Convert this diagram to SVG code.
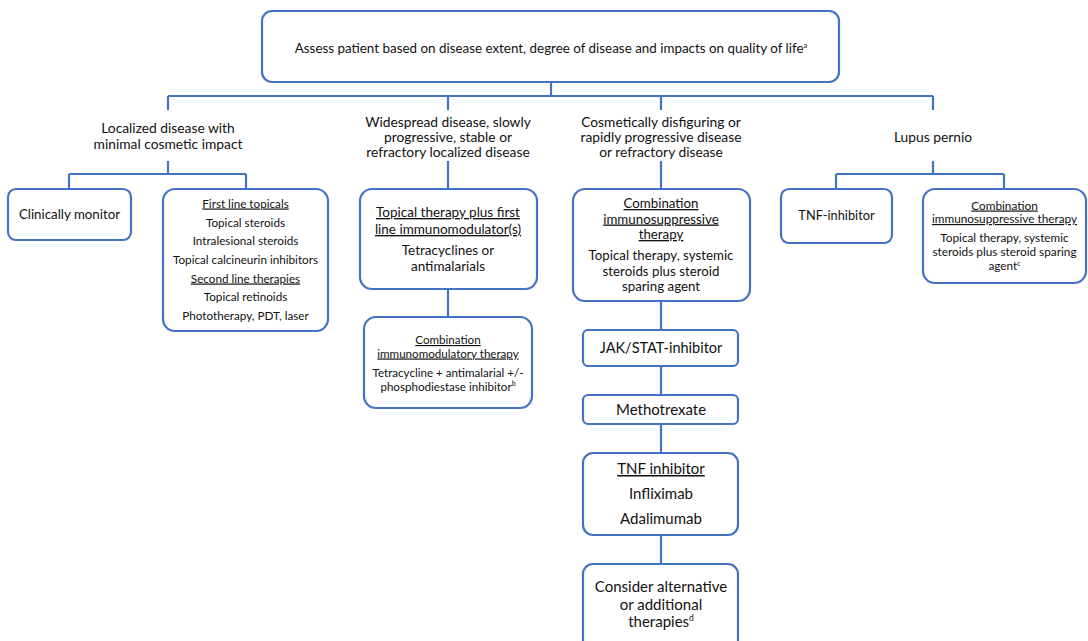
<svg xmlns="http://www.w3.org/2000/svg" width="1088" height="641" viewBox="0 0 1088 641">
<style>
.b{fill:#fff;stroke:#4472C4;stroke-width:2.2}
.c{fill:none;stroke:#4472C4;stroke-width:2.2}
text{font-family:Lato,"Liberation Sans",sans-serif;fill:#111;text-anchor:middle}
.u{text-decoration:underline}
.l{font-size:13.8px}
</style>
<rect width="1088" height="641" fill="#fff"/>
<g id="connectors">
<path class="c" d="M551 82V96M168 96H933M168 96V110M448 96V110M661 96V110M933 96V110"/>
<path class="c" d="M168 161V174M69 174H246M69 174V189M246 174V189"/>
<path class="c" d="M448 161V189M448 289V317"/>
<path class="c" d="M661 161V189M661 301V330M661 366V395M661 424V453M661 535V564"/>
<path class="c" d="M933 161V174M836 174H1004M836 174V189M1004 174V189"/>
</g>
<g id="n-top"><rect class="b" x="262" y="11" width="577" height="71" rx="10"/>
<text x="551" y="52.5" font-size="13.4">Assess patient based on disease extent, degree of disease and impacts on quality of life<tspan font-size="7.5" dy="-5">a</tspan></text></g>
<g id="l-local"><text class="l" x="168" y="132.5">Localized disease with</text><text class="l" x="168" y="148.5">minimal cosmetic impact</text></g>
<g id="l-wide"><text class="l" x="448" y="126.5">Widespread disease, slowly</text><text class="l" x="448" y="141.5">progressive, stable or</text><text class="l" x="448" y="156.5">refractory localized disease</text></g>
<g id="l-cosm"><text class="l" x="661" y="126.5">Cosmetically disfiguring or</text><text class="l" x="661" y="141.5">rapidly progressive disease</text><text class="l" x="661" y="156.5">or refractory disease</text></g>
<g id="l-lupus"><text class="l" x="933" y="141.5">Lupus pernio</text></g>
<g id="n-monitor"><rect class="b" x="8" y="189" width="123" height="51" rx="8"/><text x="69.5" y="219" font-size="13.3">Clinically monitor</text></g>
<g id="n-topicals"><rect class="b" x="163" y="189" width="165" height="142" rx="12"/>
<text font-size="11.7"><tspan class="u" x="245.5" y="207.5">First line topicals</tspan><tspan x="245.5" y="226.5">Topical steroids</tspan><tspan x="245.5" y="245">Intralesional steroids</tspan><tspan x="245.5" y="263.5">Topical calcineurin inhibitors</tspan><tspan class="u" x="245.5" y="282.5">Second line therapies</tspan><tspan x="245.5" y="301">Topical retinoids</tspan><tspan x="245.5" y="319.5">Phototherapy, PDT, laser</tspan></text></g>
<g id="n-topimm"><rect class="b" x="360" y="189" width="177" height="100" rx="12"/>
<text font-size="13.5"><tspan class="u" x="448" y="217">Topical therapy plus first</tspan><tspan class="u" x="448" y="234">line immunomodulator(s)</tspan><tspan x="448" y="255">Tetracyclines or</tspan><tspan x="448" y="271">antimalarials</tspan></text></g>
<g id="n-combimm"><rect class="b" x="364" y="317" width="168" height="91" rx="12"/>
<text font-size="11.6"><tspan class="u" x="448" y="344">Combination</tspan><tspan class="u" x="448" y="357.5">immunomodulatory therapy</tspan><tspan x="448" y="377">Tetracycline + antimalarial +/-</tspan><tspan x="448" y="390.5">phosphodiestase inhibitor<tspan font-size="7" dy="-4.5">b</tspan></tspan></text></g>
<g id="n-combsup"><rect class="b" x="573" y="189" width="177" height="112" rx="12"/>
<text font-size="13.3"><tspan class="u" x="661" y="208">Combination</tspan><tspan class="u" x="661" y="223.5">immunosuppressive</tspan><tspan class="u" x="661" y="239">therapy</tspan><tspan x="661" y="260">Topical therapy, systemic</tspan><tspan x="661" y="275.5">steroids plus steroid</tspan><tspan x="661" y="291">sparing agent</tspan></text></g>
<g id="n-jak"><rect class="b" x="583" y="330" width="155" height="36" rx="5"/><text x="661" y="352.5" font-size="14.5">JAK/STAT-inhibitor</text></g>
<g id="n-mtx"><rect class="b" x="583" y="395" width="155" height="29" rx="5"/><text x="661" y="414.5" font-size="15">Methotrexate</text></g>
<g id="n-tnf"><rect class="b" x="583" y="453" width="155" height="82" rx="10"/>
<text font-size="15"><tspan class="u" x="661" y="474">TNF inhibitor</tspan><tspan x="661" y="499">Infliximab</tspan><tspan x="661" y="524">Adalimumab</tspan></text></g>
<g id="n-consider"><rect class="b" x="583" y="564" width="155" height="90" rx="10"/>
<text font-size="15"><tspan x="661" y="592">Consider alternative</tspan><tspan x="661" y="610">or additional</tspan><tspan x="661" y="627">therapies<tspan font-size="8.5" dy="-6">d</tspan></tspan></text></g>
<g id="n-tnf2"><rect class="b" x="781" y="189" width="111" height="54" rx="8"/><text x="836.5" y="220" font-size="12.8">TNF-inhibitor</text></g>
<g id="n-combsup2"><rect class="b" x="923" y="189" width="163" height="94" rx="12"/>
<text font-size="11.8"><tspan class="u" x="1004.5" y="209.5">Combination</tspan><tspan class="u" x="1004.5" y="223">immunosuppressive therapy</tspan><tspan x="1004.5" y="241.5">Topical therapy, systemic</tspan><tspan x="1004.5" y="255.5">steroids plus steroid sparing</tspan><tspan x="1004.5" y="269.5">agent<tspan font-size="7" dy="-4">c</tspan></tspan></text></g>
</svg>
